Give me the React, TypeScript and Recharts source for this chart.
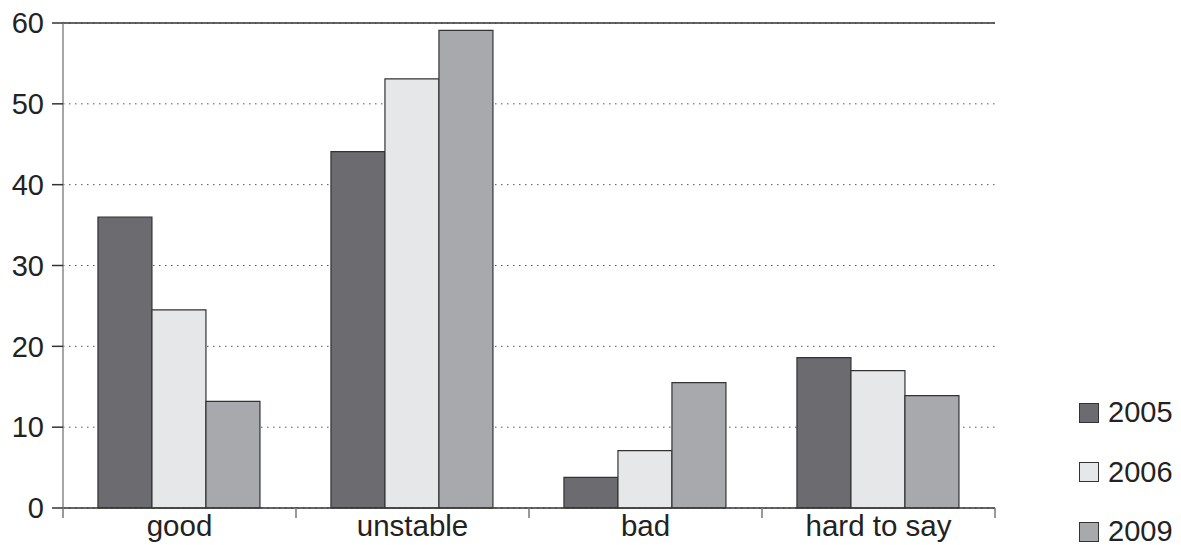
import React from "react";
import {
  BarChart,
  Bar,
  XAxis,
  YAxis,
  CartesianGrid,
  ReferenceLine,
} from "recharts";

const categories = ["good", "unstable", "bad", "hard to say"];
const y2005 = [36, 44.1, 3.8, 18.6];
const y2006 = [24.5, 53.1, 7.1, 17];
const y2009 = [13.2, 59.1, 15.5, 13.9];
const yTicks = [0, 10, 20, 30, 40, 50, 60];

const series = [
  { key: "y2005", label: "2005", fill: "#6b6b70" },
  { key: "y2006", label: "2006", fill: "#e6e7e9" },
  { key: "y2009", label: "2009", fill: "#a8a9ad" },
];

const data = categories.map((name, i) => ({
  name,
  y2005: y2005[i],
  y2006: y2006[i],
  y2009: y2009[i],
}));

const font = "'Liberation Sans', Arial, sans-serif";
const TICK_MARGIN = 7;

// category label plus a tick mark at the band edges
function CategoryTick(props: any) {
  const { x, y, payload, index, visibleTicksCount } = props;
  const half = payload.offset || 0;
  const top = y - TICK_MARGIN;
  return (
    <g>
      <line x1={x - half} x2={x - half} y1={top} y2={top + 10} stroke="#777" strokeWidth={1.5} />
      {index === visibleTicksCount - 1 && (
        <line x1={x + half} x2={x + half} y1={top} y2={top + 10} stroke="#777" strokeWidth={1.5} />
      )}
      <text
        x={x}
        y={y}
        dy="0.71em"
        textAnchor="middle"
        fontSize={29.5}
        fill="#222"
        fontFamily={font}
      >
        {payload.value}
      </text>
    </g>
  );
}

export default function App() {
  return (
    <div style={{ position: "absolute", left: 0, top: 0, width: 1181, height: 545, fontFamily: font }}>
      <BarChart
        width={1181}
        height={545}
        data={data}
        margin={{ top: 23, right: 186, left: 0, bottom: 0 }}
        barGap={0}
        barCategoryGap="15%"
      >
        <CartesianGrid
          vertical={false}
          stroke="#555"
          strokeDasharray="1.5 4.5"
        />
        <XAxis
          dataKey="name"
          height={37}
          tickLine={false}
          tickSize={0}
          tickMargin={TICK_MARGIN}
          interval={0}
          axisLine={{ stroke: "#333", strokeWidth: 1.5 }}
          tick={<CategoryTick />}
        />
        <XAxis xAxisId="b" type="number" domain={[0, 4]} hide />
        <YAxis
          width={63}
          domain={[0, 60]}
          ticks={yTicks}
          interval={0}
          tickSize={11}
          tickMargin={8}
          axisLine={{ stroke: "#888", strokeWidth: 1.5 }}
          tickLine={{ stroke: "#333", strokeWidth: 1.5 }}
          tick={{ fontSize: 29, fill: "#222", fontFamily: font }}
        />
        <ReferenceLine y={60} stroke="#333" strokeWidth={1.5} />
        <ReferenceLine x={4} xAxisId="b" stroke="#888" strokeWidth={1.5} />
        {series.map((s) => (
          <Bar
            key={s.key}
            dataKey={s.key}
            fill={s.fill}
            stroke="#333"
            strokeWidth={1.2}
            isAnimationActive={false}
          />
        ))}
      </BarChart>
      <div style={{ position: "absolute", left: 1079, top: 383 }}>
        {series.map((s) => (
          <div
            key={s.key}
            style={{ display: "flex", alignItems: "center", height: 59.5 }}
          >
            <span
              style={{
                display: "inline-block",
                width: 18,
                height: 18,
                background: s.fill,
                border: "1.2px solid #333",
                marginRight: 9,
              }}
            />
            <span style={{ fontSize: 29, color: "#222", lineHeight: "29px" }}>{s.label}</span>
          </div>
        ))}
      </div>
    </div>
  );
}
